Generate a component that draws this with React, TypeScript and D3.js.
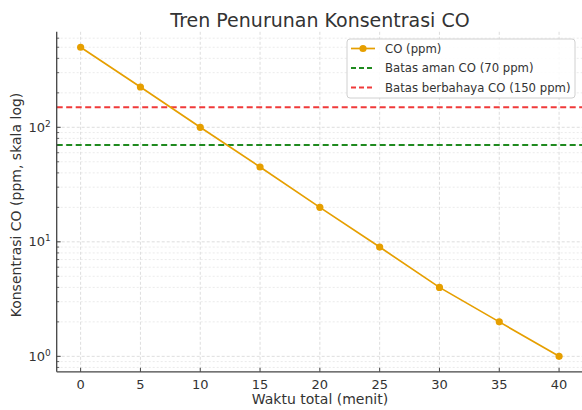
import React from 'react';
import * as d3 from 'd3';

// waktu (menit) dan konsentrasi CO (ppm)
const minutes = [0, 5, 10, 15, 20, 25, 30, 35, 40];
const coPpm = [500, 225, 100, 45, 20, 9, 4, 2, 1];
const safeLimit = 70;
const dangerLimit = 150;
const xTicks = [0, 5, 10, 15, 20, 25, 30, 35, 40];
const yMajor = [1, 10, 100];

const width = 582;
const height = 410;
const margin = { top: 31.8, right: -1, bottom: 38.2, left: 56.7 };

const font = 'DejaVu Sans, sans-serif';
const textColor = '#333';

const App = () => {
  const x = d3.scaleLinear()
    .domain([-2, 42])
    .range([margin.left, width - margin.right]);

  const y = d3.scaleLog()
    .domain([Math.pow(10, -0.135), Math.pow(10, 2.834)])
    .range([height - margin.bottom, margin.top]);

  const yMinor: number[] = [0.8, 0.9];
  [1, 10, 100].forEach(d => {
    for (let k = 2; k <= 9; k++) yMinor.push(d * k);
  });

  const line = d3.line<number>()
    .x((_, i) => x(minutes[i]))
    .y(d => y(d));

  const x0 = x.range()[0];
  const x1 = x.range()[1];
  const yBottom = y.range()[0];
  const yTop = y.range()[1];
  const minorVisible = yMinor.filter(v => y(v) <= yBottom && y(v) >= yTop);

  const legendX = 347;
  const legendY = 39;
  const legendItems = [
    { label: 'CO (ppm)', color: '#E69F00', dash: null, marker: true },
    { label: 'Batas aman CO (70 ppm)', color: '#1f8a1f', dash: '5,3', marker: false },
    { label: 'Batas berbahaya CO (150 ppm)', color: '#f03a3a', dash: '5,3', marker: false },
  ];

  return (
    <svg width={width} height={height} style={{ position: 'absolute', left: 0, top: 0, background: '#fff' }}>
      <rect width={width} height={height} fill='#fff' />
      <text x={320} y={27} textAnchor='middle' fontFamily={font} fontSize={19} fill={textColor}>
        Tren Penurunan Konsentrasi CO
      </text>

      {/* minor grid */}
      <g stroke='#e3e3e3' strokeWidth={0.7} strokeDasharray='2,2'>
        {minorVisible.map(v => (
          <line key={'m' + v} x1={x0} x2={x1} y1={y(v)} y2={y(v)} />
        ))}
      </g>
      {/* major grid */}
      <g stroke='#d4d4d4' strokeWidth={0.8} strokeDasharray='3,2'>
        {xTicks.map(t => (
          <line key={'gx' + t} x1={x(t)} x2={x(t)} y1={yTop} y2={yBottom} />
        ))}
        {yMajor.map(t => (
          <line key={'gy' + t} x1={x0} x2={x1} y1={y(t)} y2={y(t)} />
        ))}
      </g>

      {/* garis batas */}
      <line x1={x0} x2={x1} y1={y(dangerLimit)} y2={y(dangerLimit)}
        stroke='#f03a3a' strokeWidth={2} strokeDasharray='6,3.5' />
      <line x1={x0} x2={x1} y1={y(safeLimit)} y2={y(safeLimit)}
        stroke='#1f8a1f' strokeWidth={2} strokeDasharray='6,3.5' />

      {/* data */}
      <path d={line(coPpm) || ''} fill='none' stroke='#E69F00' strokeWidth={1.7} />
      {coPpm.map((v, i) => (
        <circle key={i} cx={x(minutes[i])} cy={y(v)} r={3.6} fill='#E69F00' />
      ))}

      {/* spines */}
      <g stroke='#444' strokeWidth={1.3}>
        <line x1={x0} x2={x0} y1={yTop} y2={yBottom} />
        <line x1={x0} x2={x1} y1={yBottom} y2={yBottom} />
      </g>

      {/* x ticks */}
      {xTicks.map(t => (
        <g key={'xt' + t}>
          <line x1={x(t)} x2={x(t)} y1={yBottom} y2={yBottom - 4} stroke='#444' strokeWidth={1} />
          <text x={x(t)} y={yBottom + 17} textAnchor='middle' fontFamily={font} fontSize={13} fill={textColor}>
            {t}
          </text>
        </g>
      ))}

      {/* y ticks */}
      {minorVisible.map(v => (
        <line key={'ym' + v} x1={x0} x2={x0 + 2.5} y1={y(v)} y2={y(v)} stroke='#444' strokeWidth={0.8} />
      ))}
      {yMajor.map(t => (
        <g key={'yt' + t}>
          <line x1={x0} x2={x0 + 4} y1={y(t)} y2={y(t)} stroke='#444' strokeWidth={1} />
          <text x={x0 - 6} y={y(t) + 4.5} textAnchor='end' fontFamily={font} fontSize={13} fill={textColor}>
            10<tspan dy={-5} fontSize={9}>{Math.round(Math.log10(t))}</tspan>
          </text>
        </g>
      ))}

      {/* label sumbu */}
      <text x={320} y={404} textAnchor='middle' fontFamily={font} fontSize={14} fill={textColor}>
        Waktu total (menit)
      </text>
      <text transform='translate(21,205) rotate(-90)' textAnchor='middle'
        fontFamily={font} fontSize={14} fill={textColor}>
        Konsentrasi CO (ppm, skala log)
      </text>

      {/* legend */}
      <g>
        <rect x={legendX} y={legendY} width={228} height={59} rx={3}
          fill='#fff' fillOpacity={0.85} stroke='#d0d0d0' strokeWidth={1} />
        {legendItems.map((d, i) => {
          const ly = legendY + 9.5 + i * 19.5;
          return (
            <g key={d.label}>
              <line x1={legendX + 4} x2={legendX + 28} y1={ly} y2={ly}
                stroke={d.color} strokeWidth={d.marker ? 1.7 : 2}
                strokeDasharray={d.dash || undefined} />
              {d.marker && <circle cx={legendX + 16} cy={ly} r={3.6} fill={d.color} />}
              <text x={legendX + 38} y={ly + 4} fontFamily={font} fontSize={11.7} fill={textColor}>
                {d.label}
              </text>
            </g>
          );
        })}
      </g>
    </svg>
  );
};

export default App;
